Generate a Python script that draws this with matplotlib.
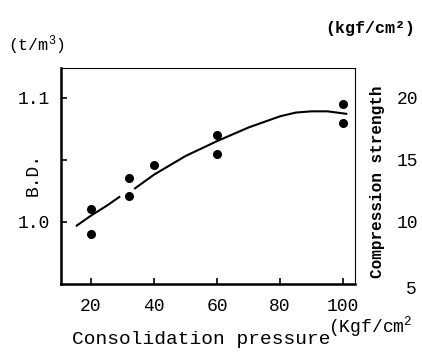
import matplotlib.pyplot as plt
import matplotlib.ticker as ticker

plt.rcParams['font.family'] = ['Liberation Mono', 'DejaVu Sans Mono']
plt.rcParams['mathtext.fontset'] = 'custom'
plt.rcParams['mathtext.rm'] = 'Liberation Mono'
plt.rcParams['mathtext.it'] = 'Liberation Mono'
plt.rcParams['mathtext.bf'] = 'Liberation Mono:bold'

# measured bulk density points
pressure = [20, 20, 32, 32, 40, 60, 60, 100, 100]
bd = [1.010, 0.990, 1.035, 1.021, 1.046, 1.070, 1.055, 1.095, 1.080]

# fitted curve (drawn with a break near 32)
curve1_x = [15.5, 20, 25, 29]
curve1_y = [0.997, 1.005, 1.013, 1.020]
curve2_x = [34, 40, 50, 60, 70, 80, 85, 90, 95, 101]
curve2_y = [1.027, 1.038, 1.053, 1.065, 1.076, 1.085, 1.088, 1.089, 1.089, 1.087]

xticks = [20, 40, 60, 80, 100]
left_ticks = [1.0, 1.05, 1.1]
right_ticks = [10, 15, 20]

fig = plt.figure(figsize=(4.22, 3.59), dpi=100)
ax = fig.add_axes([0.1445, 0.209, 0.697, 0.602])

ax.plot(curve1_x, curve1_y, color='black', lw=1.5)
ax.plot(curve2_x, curve2_y, color='black', lw=1.5)
ax.plot(pressure, bd, 'o', color='black', ms=5.5)

ax.set_xlim(10.5, 103.8)
ax.set_ylim(0.95, 1.124)
ax.set_xticks(xticks)
ax.set_yticks(left_ticks)
ax.set_yticklabels(['1.0', '', '1.1'])
ax.tick_params(direction='in', length=4, width=1.2, labelsize=13, pad=8)
ax.tick_params(axis='x', pad=10)
for s in ['left', 'bottom']:
    ax.spines[s].set_linewidth(1.8)
ax.spines['top'].set_linewidth(0.8)
ax.spines['right'].set_linewidth(0.8)
ax.spines['right'].set_linestyle((0, (4, 1)))

ax2 = ax.twinx()
ax2.set_ylim(5.0, 22.4)
ax2.set_yticks(right_ticks)
ax2.tick_params(length=0, labelsize=13, pad=30)
ax2.spines['right'].set_visible(False)
ax2.spines['top'].set_visible(False)
fig.text(0.988, 1 - 290 / 359, '5', fontsize=13, ha='right', va='center')

fig.text(0.078, 1 - 175 / 359, 'B.D.', fontsize=13, rotation=90, ha='center', va='center')
fig.text(0.895, 1 - 182 / 359, 'Compression strength', fontsize=11.5, fontweight='bold',
         rotation=90, ha='center', va='center')
fig.text(0.02, 1 - 45 / 359, '(t/m$^3$)', fontsize=12, ha='left', va='center')
fig.text(0.985, 1 - 28 / 359, '(kgf/cm\u00b2)', fontsize=12, fontweight='bold', ha='right', va='center')
fig.text(0.17, 1 - 340 / 359, 'Consolidation pressure', fontsize=14, ha='left', va='center')
fig.text(0.777, 1 - 327 / 359, '(Kgf/cm$^2$', fontsize=13, ha='left', va='center')

fig.savefig('out.png', dpi=100)
